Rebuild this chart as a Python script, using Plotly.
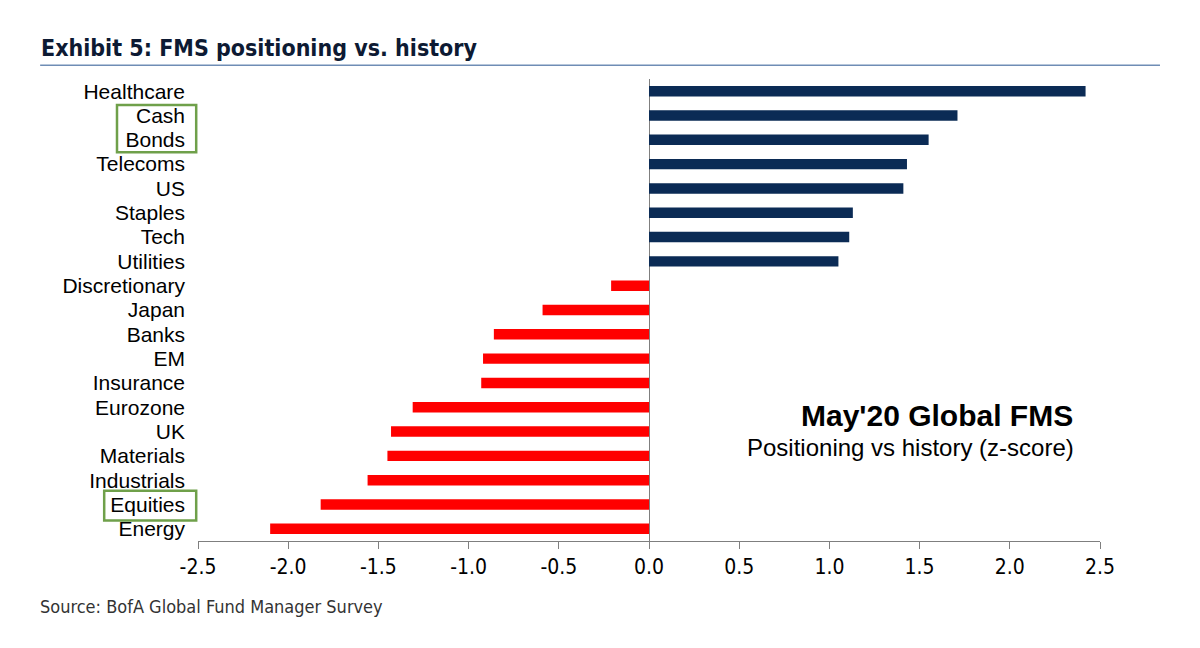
import plotly.graph_objects as go

categories = ["Healthcare", "Cash", "Bonds", "Telecoms", "US", "Staples", "Tech", "Utilities",
              "Discretionary", "Japan", "Banks", "EM", "Insurance", "Eurozone", "UK", "Materials",
              "Industrials", "Equities", "Energy"]
values = [2.42, 1.71, 1.55, 1.43, 1.41, 1.13, 1.11, 1.05,
          -0.21, -0.59, -0.86, -0.92, -0.93, -1.31, -1.43, -1.45,
          -1.56, -1.82, -2.10]
tick_vals = [-2.5, -2.0, -1.5, -1.0, -0.5, 0.0, 0.5, 1.0, 1.5, 2.0, 2.5]
tick_text = ["-2.5", "-2.0", "-1.5", "-1.0", "-0.5", "0.0", "0.5", "1.0", "1.5", "2.0", "2.5"]

NAVY = "#0B2B55"
RED = "#FF0000"
colors = [NAVY if v >= 0 else RED for v in values]

COND = "DejaVu Sans Condensed, Liberation Sans Narrow, DejaVu Sans, sans-serif"
SANS = "Liberation Sans, Arial, sans-serif"

fig = go.Figure(go.Bar(
    x=values, y=categories, orientation="h",
    marker=dict(color=colors, line=dict(width=0)),
    hoverinfo="x+y",
))

fig.update_layout(
    width=1192, height=640,
    paper_bgcolor="white", plot_bgcolor="white",
    margin=dict(l=190, r=100, t=71, b=107),
    bargap=0.57,
    showlegend=False,
    font=dict(family=SANS, color="#000000"),
)

fig.update_xaxes(
    range=[-2.5, 2.5],
    tickvals=tick_vals, ticktext=tick_text,
    showgrid=False, zeroline=True, zerolinecolor="#7F7F7F", zerolinewidth=1,
    showline=True, linecolor="#7F7F7F", linewidth=1,
    ticks="outside", ticklen=7, tickcolor="#7F7F7F",
    tickfont=dict(family=COND, size=21, color="#000"),
    fixedrange=True,
)
fig.update_yaxes(
    autorange="reversed",
    tickmode="array", tickvals=categories, ticktext=categories,
    showgrid=False, showline=False, ticks="",
    tickfont=dict(family=SANS, size=21, color="#000"),
    ticklabelstandoff=12,
    fixedrange=True,
)

# title
fig.add_annotation(
    text="<b>Exhibit 5: FMS positioning vs. history</b>",
    xref="paper", yref="paper", x=-0.176, y=1.067, xanchor="left", yanchor="middle",
    showarrow=False,
    font=dict(family=COND, size=23, color="#0D1A33"),
)
# title underline
fig.add_shape(type="line", xref="paper", yref="paper",
              x0=-0.175, x1=1.0665, y0=1.030, y1=1.030,
              line=dict(color="#6F8DB5", width=1.5))
# source
fig.add_annotation(
    text="Source: BofA Global Fund Manager Survey",
    xref="paper", yref="paper", x=-0.177, y=-0.1407, xanchor="left", yanchor="middle",
    showarrow=False,
    font=dict(family=COND, size=18, color="#333"),
)
# in-chart labels
fig.add_annotation(
    text="<b>May'20 Global FMS</b>",
    xref="paper", yref="paper", x=0.972, y=0.2727, xanchor="right", yanchor="middle",
    showarrow=False, font=dict(family=SANS, size=30, color="#000"),
)
fig.add_annotation(
    text="Positioning vs history (z-score)",
    xref="paper", yref="paper", x=0.973, y=0.2013, xanchor="right", yanchor="middle",
    showarrow=False, font=dict(family=SANS, size=24, color="#000"),
)

# green highlight boxes
GREEN = "#6FA04A"
fig.add_shape(type="rect", xref="paper", yref="y",
              x0=-0.0898, x1=-0.002, y0=0.57, y1=2.51,
              line=dict(color=GREEN, width=2.5), fillcolor="rgba(0,0,0,0)")
fig.add_shape(type="rect", xref="paper", yref="y",
              x0=-0.104, x1=-0.002, y0=16.43, y1=17.66,
              line=dict(color=GREEN, width=2.5), fillcolor="rgba(0,0,0,0)")

fig.write_html("out.html")
